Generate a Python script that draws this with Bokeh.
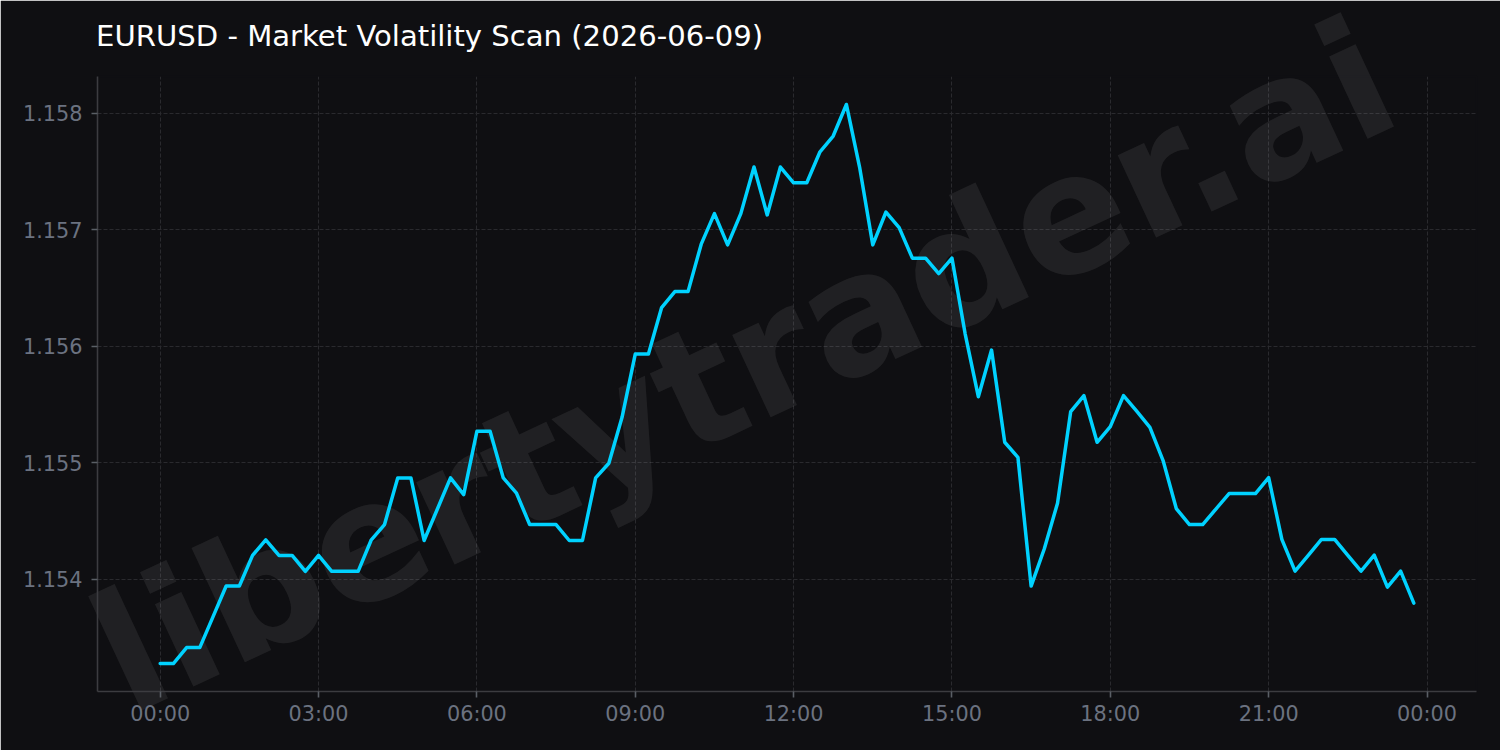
import numpy as np
import pandas as pd
from bokeh.plotting import figure
from bokeh.models import Range1d, FixedTicker, DatetimeTickFormatter, NumeralTickFormatter
from bokeh.core.properties import value
from bokeh.embed import file_html
from bokeh.resources import INLINE

# ---- data ----
title_text = "EURUSD - Market Volatility Scan (2026-06-09)"
watermark_text = "libertytrader.ai"
times = pd.date_range("2026-06-09 00:00", periods=96, freq="15min")
prices = [
    1.153278, 1.153278, 1.153415, 1.153415, 1.153679, 1.153943, 1.153943, 1.154206,
    1.154340, 1.154206, 1.154206, 1.154069, 1.154206, 1.154069, 1.154069, 1.154069,
    1.154340, 1.154471, 1.154871, 1.154871, 1.154334, 1.154602, 1.154871, 1.154728,
    1.155271, 1.155271, 1.154871, 1.154740, 1.154471, 1.154471, 1.154471, 1.154334,
    1.154334, 1.154871, 1.154997, 1.155391, 1.155934, 1.155934, 1.156333, 1.156470,
    1.156470, 1.156877, 1.157139, 1.156871, 1.157139, 1.157539, 1.157128, 1.157539,
    1.157404, 1.157404, 1.157670, 1.157805, 1.158076, 1.157539, 1.156871, 1.157153,
    1.157019, 1.156757, 1.156757, 1.156625, 1.156757, 1.156108, 1.155568, 1.155968,
    1.155177, 1.155048, 1.153943, 1.154263, 1.154654, 1.155440, 1.155577, 1.155177,
    1.155311, 1.155577, 1.155444, 1.155305, 1.155020, 1.154608, 1.154471, 1.154471,
    1.154604, 1.154737, 1.154737, 1.154737, 1.154874, 1.154343, 1.154071, 1.154206,
    1.154343, 1.154343, 1.154206, 1.154071, 1.154208, 1.153934, 1.154071, 1.153797,
]
y_ticks = [1.154, 1.155, 1.156, 1.157, 1.158]
x_tick_hours = [0, 3, 6, 9, 12, 15, 18, 21, 24]

BG = "#0f0f12"
LINE = "#00d2ff"
GRID = "#2a2a2e"
AXIS = "#3c3c40"
TICK = "#5a5f66"
TICKLBL = "#6b7280"

W, H = 1500, 750
FL, FR, FT, FB = 97, 1476, 76, 691   # frame edges in page pixels

t_ms = np.array([(t - pd.Timestamp("1970-01-01")).total_seconds() * 1000 for t in times])
span = t_ms[-1] - t_ms[0]
pmin, pmax = min(prices), max(prices)
prng = pmax - pmin
xr = Range1d(t_ms[0] - 0.05 * span, t_ms[-1] + 0.05 * span)
yr = Range1d(pmin - 0.05 * prng, pmax + 0.05 * prng)


def page_x(px):
    return xr.start + (px - FL) / (FR - FL) * (xr.end - xr.start)


def page_y(py):
    return yr.end - (py - FT) / (FB - FT) * (yr.end - yr.start)


p = figure(width=W, height=H, output_backend="svg", toolbar_location=None, tools="",
           title=None, x_axis_type="datetime", x_range=xr, y_range=yr,
           min_border_left=FL, min_border_right=W - FR, min_border_top=FT,
           min_border_bottom=H - FB, outline_line_color=BG)

p.background_fill_color = BG
p.border_fill_color = BG
p.outline_line_color = BG      # hides the light seam around the frame
p.outline_line_width = 2

# title (text glyph above the frame, unclipped)
p.text(x=[page_x(95.6)], y=[page_y(35.3)], text=[title_text],
       text_align="left", text_baseline="alphabetic", text_font=value("DejaVu Sans"),
       text_font_size="29.1px", text_color="#ffffff", level="overlay")

# watermark centred on the page (guide level so it is not clipped to the frame)
p.text(x=[page_x(743)], y=[page_y(366)], text=[watermark_text], angle=25, angle_units="deg",
       text_align="center", text_baseline="middle", text_font=value("DejaVu Sans"),
       text_font_style="bold", text_font_size="166px", text_color="#ffffff",
       text_alpha=0.075, level="guide")

r = p.line(t_ms, prices, line_color=LINE, line_width=3.5, line_join="round", line_cap="round")
r.level = "overlay"

# axes
for ax in (p.xaxis[0], p.yaxis[0]):
    ax.axis_line_color = AXIS
    ax.axis_line_width = 1.6
    ax.major_tick_line_color = TICK
    ax.major_tick_line_width = 1.6
    ax.major_tick_out = 6
    ax.major_tick_in = 0
    ax.minor_tick_line_color = None
    ax.major_label_text_color = TICKLBL
    ax.major_label_text_font = "DejaVu Sans"
    ax.major_label_text_font_size = "20.8px"

p.xaxis.ticker = FixedTicker(ticks=[t_ms[0] + h * 3600 * 1000 for h in x_tick_hours])
fmt = "%H:%M"
p.xaxis.formatter = DatetimeTickFormatter(microseconds=fmt, milliseconds=fmt, seconds=fmt,
                                          minsec=fmt, minutes=fmt, hourmin=fmt, hours=fmt,
                                          days=fmt, months=fmt, years=fmt)
p.xaxis.major_label_standoff = 4
p.yaxis.ticker = FixedTicker(ticks=y_ticks)
p.yaxis.formatter = NumeralTickFormatter(format="0.000")
p.yaxis.major_label_standoff = 9

for g in (p.xgrid[0], p.ygrid[0]):
    g.grid_line_color = GRID
    g.grid_line_width = 1
    g.grid_line_dash = "4 2"
p.xgrid.ticker = p.xaxis.ticker
p.ygrid.ticker = p.yaxis.ticker

open("out.html", "w").write(file_html(p, INLINE))
